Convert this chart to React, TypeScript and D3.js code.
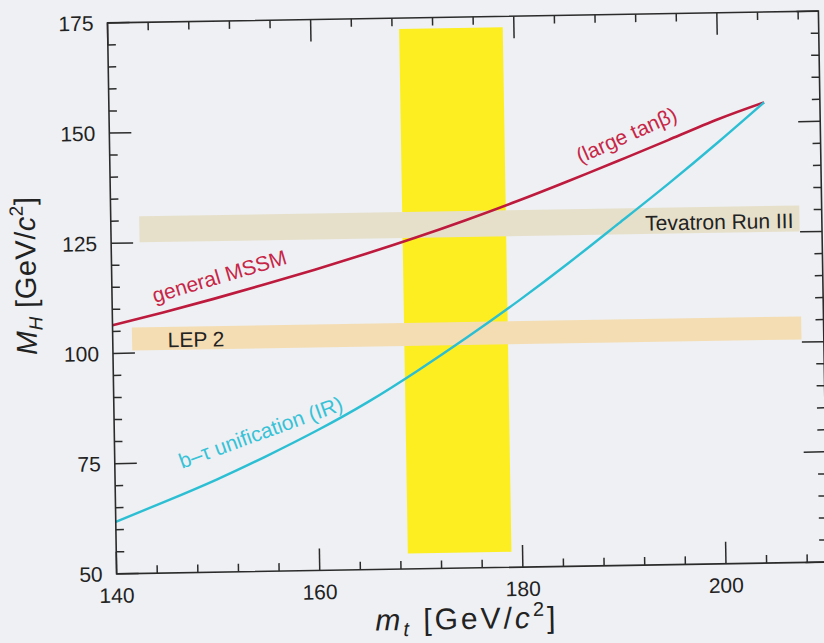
import { useEffect } from 'react';
import * as d3 from 'd3';

const W = 824;
const H = 643;
const margin = { top: 17, right: 1, bottom: 75, left: 112 };
// the scan is tilted slightly counter-clockwise
const tilt = -0.95;

const xDomain: [number, number] = [140, 210];
const yDomain: [number, number] = [50, 175];
const xMajor = [140, 160, 180, 200];
const yMajor = [50, 75, 100, 125, 150, 175];

// M_H upper bound curves
const curveX = [140, 145, 150, 155, 160, 165, 170, 175, 180, 185, 190, 195, 200, 204.5];
const mssmY = [106.4, 109.1, 112.0, 115.05, 118.25, 121.6, 125.15, 128.95, 133.0, 137.3, 141.75, 146.3, 150.9, 154.5];
const btauY = [61.8, 66.3, 71.0, 76.2, 81.8, 88.0, 95.0, 102.5, 110.4, 118.8, 127.6, 136.5, 145.8, 154.5];

// measured top mass band and search reaches
const mtBandX = [168.7, 178.9];
const mtBandY = [53.5, 172.5];
const tevatronX = [142.8, 207.8];
const tevatronY = [125.1, 131.0];
const lepX = [141.9, 207.8];
const lepY = [100.6, 105.8];

const font = "'Liberation Sans', Arial, Helvetica, sans-serif";

export default function App() {
  useEffect(() => {
    document.body.style.margin = '0';
  }, []);

  const x = d3.scaleLinear().domain(xDomain).range([margin.left, W - margin.right]);
  const y = d3.scaleLinear().domain(yDomain).range([H - margin.bottom, margin.top]);
  const line = d3
    .line<number>()
    .x((_, i) => x(curveX[i]))
    .y((d) => y(d))
    .curve(d3.curveNatural);

  const x0 = x(xDomain[0]);
  const x1 = x(xDomain[1]);
  const y0 = y(yDomain[0]);
  const y1 = y(yDomain[1]);
  const xMinor = d3.range(140, 211, 4).filter((v) => !xMajor.includes(v));
  const yMinor = d3.range(50, 176, 5).filter((v) => !yMajor.includes(v));
  const major = 22;
  const minor = 8;
  const ink = '#2b2b2b';

  const band = (bx: number[], by: number[], fill: string) => (
    <rect x={x(bx[0])} y={y(by[1])} width={x(bx[1]) - x(bx[0])} height={y(by[0]) - y(by[1])} fill={fill} />
  );

  const curveLabel = (text: string, px: number, py: number, angle: number, fill: string) => (
    <text
      transform={`translate(${x(px)},${y(py)}) rotate(${angle})`}
      fontSize={21}
      fill={fill}
      fontFamily={font}
    >
      {text}
    </text>
  );

  return (
    <svg width={W} height={H} style={{ display: 'block' }}>
      <rect width={W} height={H} fill="#eef0f3" />
      <g transform={`rotate(${tilt},465,292)`}>
        {band(mtBandX, mtBandY, '#fcee21')}
        {band(tevatronX, tevatronY, '#e6e0cb')}
        {band(lepX, lepY, '#f4ddb3')}

        <path d={line(mssmY) ?? ''} fill="none" stroke="#bd1a3d" strokeWidth={2.6} />
        <path d={line(btauY) ?? ''} fill="none" stroke="#2cbfd4" strokeWidth={2.4} />

        {curveLabel('general MSSM', 144.2, 111.3, -15.5, '#c72647')}
        {curveLabel('(large tanβ)', 186.3, 141.3, -23, '#c72647')}
        {curveLabel('b–τ unification (IR)', 146.6, 73.6, -19, '#36c2d7')}

        <text x={x(207.2)} y={y(125.9)} textAnchor="end" fontSize={21} fill="#222" fontFamily={font}>
          Tevatron Run III
        </text>
        <text x={x(145.4)} y={y(101.2)} fontSize={21} fill="#222" fontFamily={font}>
          LEP 2
        </text>

        {/* frame */}
        <rect x={x0} y={y1} width={x1 - x0} height={y0 - y1} fill="none" stroke={ink} strokeWidth={1.6} />

        {/* ticks on all four sides, pointing inward */}
        {[...xMajor.map((v) => [v, major]), ...xMinor.map((v) => [v, minor])].map(([v, len]) => (
          <g key={`xt${v}`} stroke={ink} strokeWidth={1.5}>
            <line x1={x(v)} x2={x(v)} y1={y0} y2={y0 - len} />
            <line x1={x(v)} x2={x(v)} y1={y1} y2={y1 + len} />
          </g>
        ))}
        {[...yMajor.map((v) => [v, major]), ...yMinor.map((v) => [v, minor])].map(([v, len]) => (
          <g key={`yt${v}`} stroke={ink} strokeWidth={1.5}>
            <line x1={x0} x2={x0 + len} y1={y(v)} y2={y(v)} />
            <line x1={x1} x2={x1 - len} y1={y(v)} y2={y(v)} />
          </g>
        ))}

        {xMajor.map((v) => (
          <text key={`xl${v}`} x={x(v)} y={y0 + 29} textAnchor="middle" fontSize={21} fill="#222" fontFamily={font}>
            {v}
          </text>
        ))}
        {yMajor.map((v) => (
          <text
            key={`yl${v}`}
            x={x0 - 14}
            y={y(v)}
            dy="0.36em"
            textAnchor="end"
            fontSize={21}
            fill="#222"
            fontFamily={font}
          >
            {v}
          </text>
        ))}

        <text x={553} y={629} textAnchor="end" fontSize={30} fill="#222" fontFamily={font} letterSpacing={3}>
          <tspan fontStyle="italic">m</tspan>
          <tspan fontStyle="italic" fontSize={20} dy={6}>t</tspan>
          <tspan dy={-6}> [GeV/</tspan>
          <tspan fontStyle="italic">c</tspan>
          <tspan fontSize={20} dy={-12}>2</tspan>
          <tspan dy={12}>]</tspan>
        </text>
        <text
          transform="translate(36,348) rotate(-90)"
          fontSize={29}
          fill="#222"
          fontFamily={font}
          letterSpacing={0.5}
        >
          <tspan fontStyle="italic">M</tspan>
          <tspan fontStyle="italic" fontSize={19} dy={6}>H</tspan>
          <tspan dy={-6}> [GeV/</tspan>
          <tspan fontStyle="italic">c</tspan>
          <tspan fontSize={19} dy={-12}>2</tspan>
          <tspan dy={12}>]</tspan>
        </text>
      </g>
    </svg>
  );
}
